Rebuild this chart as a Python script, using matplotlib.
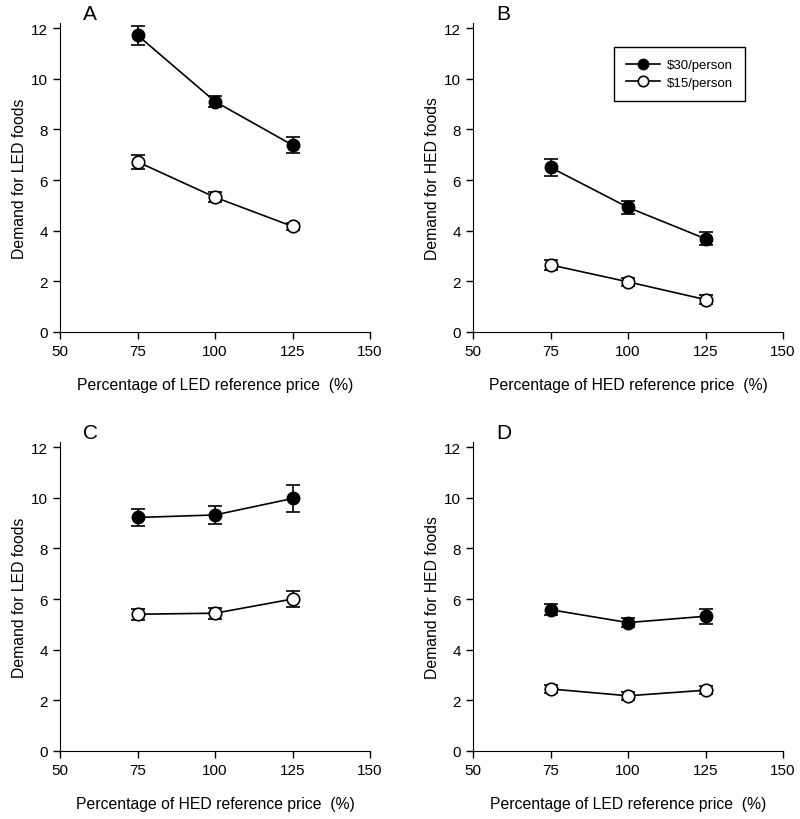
import matplotlib
matplotlib.use("Agg")
import matplotlib.pyplot as plt
from matplotlib.lines import Line2D

plt.rcParams["font.family"] = ["Liberation Sans", "DejaVu Sans"]

# Datos de cada panel
prices = [75, 100, 125]

a_30 = [11.72, 9.10, 7.38]
a_30_err = [0.37, 0.20, 0.30]
a_15 = [6.72, 5.32, 4.17]
a_15_err = [0.27, 0.20, 0.15]

b_30 = [6.50, 4.92, 3.68]
b_30_err = [0.35, 0.25, 0.25]
b_15 = [2.65, 1.98, 1.28]
b_15_err = [0.20, 0.15, 0.18]

c_30 = [9.22, 9.32, 9.97]
c_30_err = [0.35, 0.37, 0.53]
c_15 = [5.40, 5.44, 6.00]
c_15_err = [0.22, 0.22, 0.30]

d_30 = [5.58, 5.07, 5.32]
d_30_err = [0.22, 0.17, 0.30]
d_15 = [2.45, 2.18, 2.40]
d_15_err = [0.15, 0.15, 0.15]

panel_letters = ["A", "B", "C", "D"]
y_labels = ["Demand for LED foods", "Demand for HED foods",
            "Demand for LED foods", "Demand for HED foods"]
x_labels = ["Percentage of LED reference price  (%)",
            "Percentage of HED reference price  (%)",
            "Percentage of HED reference price  (%)",
            "Percentage of LED reference price  (%)"]
series_labels = ["$30/person", "$15/person"]

panels = [
    (a_30, a_30_err, a_15, a_15_err),
    (b_30, b_30_err, b_15, b_15_err),
    (c_30, c_30_err, c_15, c_15_err),
    (d_30, d_30_err, d_15, d_15_err),
]

fig = plt.figure(figsize=(8, 8.2), dpi=100)
W, H = 800, 820
boxes = [(60, 24), (473, 24), (60, 443), (473, 443)]

for i, (hi, hi_err, lo, lo_err) in enumerate(panels):
    x0, ytop = boxes[i]
    ax = fig.add_axes([x0 / W, 1 - (ytop + 309) / H, 310 / W, 309 / H])

    ax.errorbar(prices, hi, yerr=hi_err, color="black", marker="o", ms=9,
                mfc="black", mec="black", lw=1.2, elinewidth=1.2, capsize=5,
                capthick=1.2)
    ax.errorbar(prices, lo, yerr=lo_err, color="black", marker="o", ms=9,
                mfc="white", mec="black", mew=1.2, lw=1.2, elinewidth=1.2,
                capsize=5, capthick=1.2)

    ax.set_xlim(50, 150)
    ax.set_ylim(0, 12.2)
    ax.set_xticks([50, 75, 100, 125, 150])
    ax.set_yticks([0, 2, 4, 6, 8, 10, 12])
    ax.spines["top"].set_visible(False)
    ax.spines["right"].set_visible(False)
    ax.tick_params(direction="out", length=5, width=1, labelsize=11)
    ax.set_ylabel(y_labels[i], fontsize=11.3, labelpad=3)
    ax.set_xlabel(x_labels[i], fontsize=11.3, labelpad=14)
    ax.text(0.075, 1.0, panel_letters[i], transform=ax.transAxes,
            fontsize=15, ha="left", va="bottom")

    if i == 1:
        handles = [
            Line2D([], [], color="black", marker="o", ms=7.5, mfc="black", lw=1.2),
            Line2D([], [], color="black", marker="o", ms=7.5, mfc="white", mew=1.2, lw=1.2),
        ]
        leg = ax.legend(handles, series_labels, loc="upper right",
                        bbox_to_anchor=(0.877, 0.922), borderaxespad=0,
                        fontsize=9.5, frameon=True, fancybox=False,
                        framealpha=1, edgecolor="black", handlelength=2.6,
                        handletextpad=0.5, borderpad=0.9, labelspacing=0.4)
        leg.get_frame().set_linewidth(1.0)

fig.savefig("out.png", dpi=100)
